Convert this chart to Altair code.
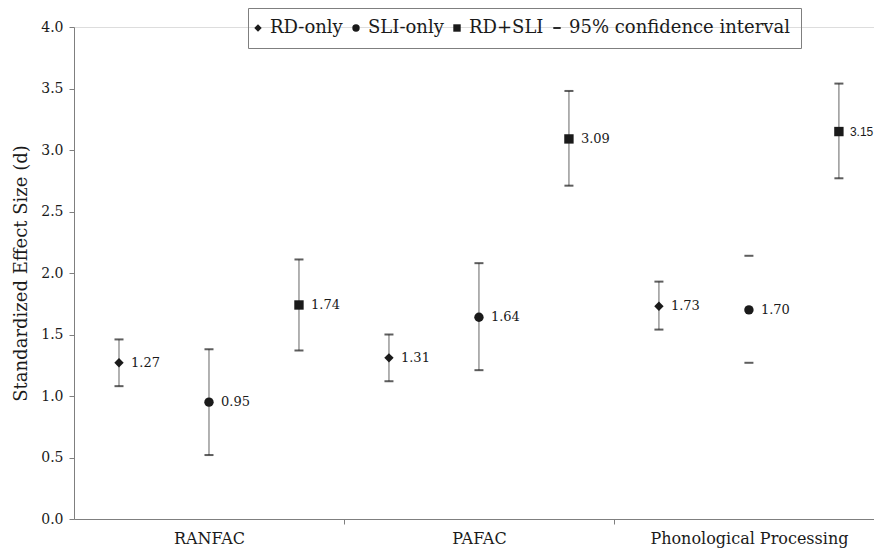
import altair as alt
import pandas as pd

categories = ["RANFAC", "PAFAC", "Phonological Processing"]
groups = ["RD-only", "SLI-only", "RD+SLI"]
legend_items = ["RD-only", "SLI-only", "RD+SLI", "95% confidence interval"]

effect = [1.27, 0.95, 1.74, 1.31, 1.64, 3.09, 1.73, 1.70, 3.15]
ci_low = [1.08, 0.52, 1.37, 1.12, 1.21, 2.71, 1.54, 1.27, 2.77]
ci_high = [1.46, 1.38, 2.11, 1.50, 2.08, 3.48, 1.93, 2.14, 3.54]
label_text = ["1.27", "0.95", "1.74", "1.31", "1.64", "3.09", "1.73", "1.70", "3.15"]
has_line = [True, True, True, True, True, True, True, False, True]
sans_label = [False, False, False, False, False, False, False, False, True]

y_ticks = [0.0, 0.5, 1.0, 1.5, 2.0, 2.5, 3.0, 3.5, 4.0]

rows = []
for i, v in enumerate(effect):
    c, g = divmod(i, 3)
    rows.append(dict(category=categories[c], group=groups[g], pos=c * 3 + g + 0.5,
                     d=v, lo=ci_low[i], hi=ci_high[i], label=label_text[i],
                     line=has_line[i], sans=sans_label[i]))
df = pd.DataFrame(rows)

cat_centers = [i * 3 + 1.5 for i in range(len(categories))]
boundaries = [3, 6]
x_values = sorted(cat_centers + boundaries)
label_expr = " : ".join(
    f"datum.value == {p} ? '{n}'" for p, n in zip(cat_centers, categories)
) + " : ''"

SERIF = "DejaVu Serif"
INK = "#1a1a1a"
GREY = "#7f7f7f"

x_enc = alt.X(
    "pos:Q",
    scale=alt.Scale(domain=[0, 8.89], nice=False, zero=False),
    axis=alt.Axis(
        values=x_values, labelExpr=label_expr, title=None, grid=False,
        tickSize=5, labelPadding=6, labelFont=SERIF, labelFontSize=16,
        labelColor=INK, labelOverlap=False, labelFlush=False, labelBound=False,
        labelLimit=400, domainColor=GREY, tickColor=GREY,
        tickOpacity={"condition": {"test": "datum.value % 3 == 0", "value": 1}, "value": 0},
    ),
)


def y_enc(field):
    return alt.Y(
        f"{field}:Q",
        scale=alt.Scale(domain=[0, 4], nice=False),
        axis=alt.Axis(
            values=y_ticks, format=".1f", grid=False, tickSize=5, labelPadding=6,
            labelFont=SERIF, labelFontSize=14, labelColor=INK,
            domainColor=GREY, tickColor=GREY,
            title="Standardized Effect Size (d)", titleFont=SERIF, titleFontSize=18,
            titleFontWeight="normal", titleColor=INK, titlePadding=10,
        ),
    )


base = alt.Chart(df).encode(x=x_enc)

rules = base.transform_filter("datum.line").mark_rule(color=GREY, strokeWidth=1.2).encode(
    y=y_enc("lo"), y2="hi:Q"
)
cap_lo = base.mark_tick(orient="horizontal", size=9, thickness=2, color=INK).encode(y=y_enc("lo"))
cap_hi = base.mark_tick(orient="horizontal", size=9, thickness=2, color=INK).encode(y=y_enc("hi"))

points = base.mark_point(filled=True, opacity=1, color=INK, size=88).encode(
    y=y_enc("d"),
    shape=alt.Shape(
        "group:N",
        scale=alt.Scale(domain=legend_items,
                        range=["diamond", "circle", "square",
                               "M-1,-0.25L1,-0.25L1,0.25L-1,0.25Z"]),
        legend=alt.Legend(
            title=None, orient="none", legendX=174, legendY=-19, direction="horizontal",
            strokeColor=GREY, padding=11, labelFont=SERIF, labelFontSize=18,
            labelColor=INK, labelLimit=400, symbolSize=55, symbolFillColor=INK,
            symbolStrokeColor=INK, symbolStrokeWidth=0, labelOffset=3, columnPadding=9,
            symbolOffset=-10,
        ),
    ),
)

labels_serif = base.transform_filter("!datum.sans").mark_text(
    align="left", baseline="middle", dx=12, font=SERIF, fontSize=13, color=INK
).encode(y=y_enc("d"), text="label:N")

labels_sans = base.transform_filter("datum.sans").mark_text(
    align="left", baseline="middle", dx=11, font="Liberation Sans", fontSize=12, color=INK
).encode(y=y_enc("d"), text="label:N")

chart = (
    alt.layer(rules, cap_lo, cap_hi, points, labels_serif, labels_sans)
    .properties(
        width=800, height=492, autosize="none",
        padding={"left": 66, "top": 19, "right": 0, "bottom": 32},
    )
    .configure_view(stroke=None)
    .configure(background="white")
)

chart.save("out.html", embed_options={"renderer": "svg", "actions": False})
